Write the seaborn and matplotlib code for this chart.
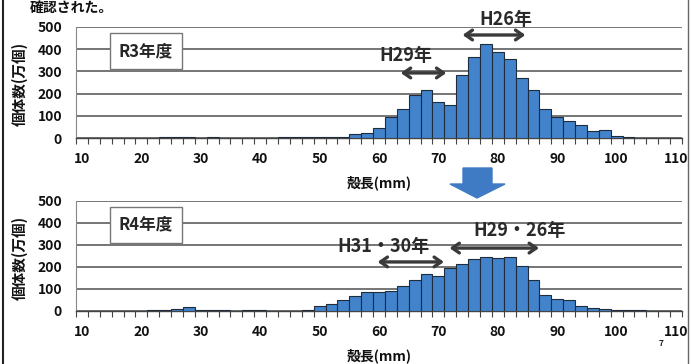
import numpy as np
import pandas as pd
import matplotlib
matplotlib.use("Agg")
import matplotlib.pyplot as plt
import seaborn as sns
from matplotlib.patches import Polygon
from matplotlib.lines import Line2D

# ---- data ----
centers = list(range(10, 112, 2))  # shell length class centers (mm)
r3_values = [2, 2, 2, 2, 2, 2, 2, 3, 3, 3,
             2, 3, 2, 2, 2, 2, 2, 3, 3, 3,
             4, 4, 6, 20, 22, 45, 93, 130, 195, 218,
             160, 150, 285, 363, 425, 387, 357, 270, 218, 132,
             96, 77, 60, 32, 38, 8, 4, 2, 2, 1, 1]
r4_values = [1, 1, 1, 1, 1, 2, 5, 6, 9, 18,
             6, 4, 3, 2, 3, 5, 1, 2, 2, 3,
             22, 30, 48, 70, 85, 85, 90, 112, 140, 170,
             160, 195, 215, 236, 247, 240, 247, 206, 141, 73,
             55, 48, 22, 12, 10, 6, 4, 3, 2, 2, 1]
xtick_values = list(range(10, 111, 10))
ytick_values = [0, 100, 200, 300, 400, 500]
panel_labels = ["R3年度", "R4年度"]

sns.set_style("white")
plt.rcParams['font.family'] = ['Noto Sans CJK JP', 'DejaVu Sans']
plt.rcParams['font.weight'] = 'bold'

W, H = 691, 364
fig = plt.figure(figsize=(W / 100, H / 100), dpi=100)

def fy(y):
    return (H - y) / H

def fx(x):
    return x / W

ax1 = fig.add_axes([fx(76), fy(138), fx(682) - fx(76), fy(27) - fy(138)])
ax2 = fig.add_axes([fx(76), fy(311), fx(682) - fx(76), fy(201) - fy(311)])

bar_color = "#4383CB"
edge_color = "#1E2C3C"

for ax, vals, lab, ylab_y in [(ax1, r3_values, panel_labels[0], 84),
                              (ax2, r4_values, panel_labels[1], 258)]:
    df = pd.DataFrame({"length": centers, "count": vals})
    sns.histplot(data=df, x="length", weights="count", binwidth=2, binrange=(9, 111),
                 ax=ax, color=bar_color, edgecolor=edge_color, linewidth=0.8,
                 alpha=1.0, zorder=3)
    ax.set_xlim(9, 111)
    ax.set_ylim(0, 500)
    ax.set_yticks(ytick_values)
    ax.set_xticks(xtick_values)
    ax.set_xticks(np.arange(9, 112, 2), minor=True)
    ax.tick_params(axis='x', which='major', length=0, pad=10, labelsize=10)
    ax.tick_params(axis='x', which='minor', length=4, width=0.8, color="#444444",
                   direction='out', bottom=True)
    ax.tick_params(axis='y', which='major', length=0, pad=10, labelsize=10)
    for t in ax.get_xticklabels() + ax.get_yticklabels():
        t.set_fontweight('bold')
        t.set_color('#111111')
    ax.grid(axis='y', color='#505050', linewidth=1.1, zorder=0)
    ax.set_axisbelow(True)
    for s in ['top', 'right']:
        ax.spines[s].set_visible(False)
    ax.spines['left'].set_color('#888888')
    ax.spines['bottom'].set_color('#444444')
    ax.spines['bottom'].set_linewidth(1.0)
    ax.set_ylabel("")
    fig.text(fx(20), fy(ylab_y), "個体数(万個)", rotation=90, fontsize=10.5,
             fontweight='bold', ha='center', va='center', color='#111111')
    ax.set_xlabel("殻長(mm)", fontsize=10, fontweight='bold', labelpad=2, color='#111111')
    ax.text(20.8, 392, lab, fontsize=12, fontweight='bold', ha='center', va='center',
            zorder=5,
            bbox=dict(boxstyle='square,pad=0.55', facecolor='white',
                      edgecolor='#777777', linewidth=1.0))

ax1.xaxis.set_label_coords(0.5, -0.34)
ax2.xaxis.set_label_coords(0.5, -0.34)

arrow_kw = dict(arrowstyle='<->,head_length=0.5,head_width=0.35', color='#3A3A3A', lw=2.4)

def dbl(ax, x0, x1, y):
    ax.annotate('', xy=(x1, y), xytext=(x0, y), arrowprops=arrow_kw,
                annotation_clip=False, zorder=6)

# top panel annotations
ax1.text(81.4, 536, "H26年", fontsize=13, fontweight='bold', ha='center', va='center',
         color='#2A2A2A', clip_on=False)
dbl(ax1, 73.6, 85.1, 464)
ax1.text(64.5, 372, "H29年", fontsize=13, fontweight='bold', ha='center', va='center',
         color='#2A2A2A', zorder=6)
dbl(ax1, 63.2, 71.8, 293)

# bottom panel annotations
ax2.text(83.7, 364, "H29・26年", fontsize=13, fontweight='bold', ha='center', va='center',
         color='#2A2A2A', zorder=6)
dbl(ax2, 71.4, 87.4, 286)
ax2.text(60.7, 295, "H31・30年", fontsize=13, fontweight='bold', ha='center', va='center',
         color='#2A2A2A', zorder=6)
dbl(ax2, 59.3, 71.4, 223)

# blue down arrow between panels
pts = [(463, 168), (492, 168), (492, 184), (505, 184), (477, 198), (450, 184), (463, 184)]
fig.add_artist(Polygon([(fx(x), fy(y)) for x, y in pts], closed=True,
                       transform=fig.transFigure, facecolor='#3F7BC4', edgecolor='#3F7BC4'))

# heading text at top (cut off in the source slide)
fig.text(fx(30), fy(0.5), "確認された。", fontsize=10, fontweight='bold', ha='left',
         va='top', color='#111111')

# page number
fig.text(fx(661), fy(343), "7", fontsize=6, ha='center', va='center', color='#222222')

# slide frame lines
fig.add_artist(Line2D([fx(3), fx(3)], [0, 1], transform=fig.transFigure,
                      color='#222222', lw=1.5))
fig.add_artist(Line2D([fx(688), fx(688)], [0, 1], transform=fig.transFigure,
                      color='#666666', lw=1.0))

fig.savefig("out.png", dpi=100)
